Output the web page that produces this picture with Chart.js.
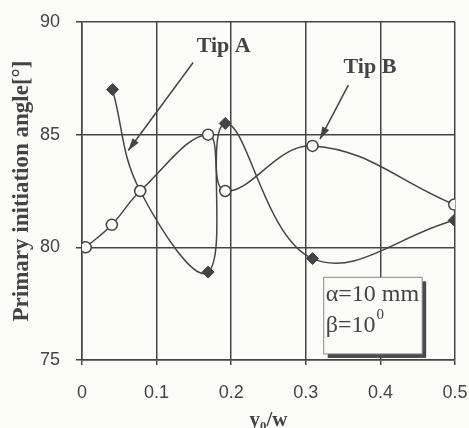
<!DOCTYPE html>
<html>
<head>
<meta charset="utf-8">
<script src="https://cdn.jsdelivr.net/npm/chart.js@4"></script>
<style>
  html, body { margin: 0; padding: 0; background: #fcfcf6; }
  #wrap { width: 469px; height: 428px; }
</style>
</head>
<body>
<div id="wrap"><canvas id="myChart" width="469" height="428"></canvas></div>
<script>
// data
const tipBx = [0.005, 0.04, 0.078, 0.169, 0.192, 0.309, 0.499];
const tipBy = [80.0, 81.0, 82.5, 85.0, 82.5, 84.5, 81.9];
const tipAx = [0.041, 0.078, 0.169, 0.192, 0.309, 0.499];
const tipAy = [87.0, 82.5, 78.9, 85.5, 79.5, 81.2];
const xTicks = [0, 0.1, 0.2, 0.3, 0.4, 0.5];
const yTicks = [75, 80, 85, 90];

const ink = "#444";
const serif = "'Liberation Serif', 'Times New Roman', serif";
const sans = "'Liberation Sans', Arial, sans-serif";

function pts(xs, ys) {
  return xs.map((x, i) => ({ x: x, y: ys[i] }));
}

// annotation labels and arrows, in data units
const notes = [
  { text: "Tip A", x: 0.19, y: 88.9, from: [0.149, 88.2], to: [0.062, 84.3] },
  { text: "Tip B", x: 0.386, y: 88.0, from: [0.357, 87.2], to: [0.319, 84.8] },
];

const notePlugin = {
  id: "notes",
  afterDatasetsDraw(chart) {
    const c = chart.ctx;
    const xs = chart.scales.x, ys = chart.scales.y;
    c.save();
    c.fillStyle = ink;
    c.strokeStyle = ink;
    c.font = "bold 22px " + serif;
    c.textAlign = "center";
    c.textBaseline = "middle";
    notes.forEach((n) => {
      c.fillText(n.text, xs.getPixelForValue(n.x), ys.getPixelForValue(n.y));
      const x1 = xs.getPixelForValue(n.from[0]), y1 = ys.getPixelForValue(n.from[1]);
      const x2 = xs.getPixelForValue(n.to[0]), y2 = ys.getPixelForValue(n.to[1]);
      c.lineWidth = 1.5;
      c.beginPath();
      c.moveTo(x1, y1);
      c.lineTo(x2, y2);
      c.stroke();
      const a = Math.atan2(y2 - y1, x2 - x1);
      c.beginPath();
      c.moveTo(x2, y2);
      c.lineTo(x2 - 13 * Math.cos(a - 0.3), y2 - 13 * Math.sin(a - 0.3));
      c.lineTo(x2 - 13 * Math.cos(a + 0.3), y2 - 13 * Math.sin(a + 0.3));
      c.closePath();
      c.fill();
    });

    // parameter box with shadow
    const bx = xs.getPixelForValue(0.324), by = ys.getPixelForValue(78.67);
    const bw = xs.getPixelForValue(0.456) - bx, bh = ys.getPixelForValue(75.27) - by;
    c.fillStyle = "#4a4a4a";
    c.fillRect(bx + 4, by + 4, bw, bh);
    c.fillStyle = "#fcfcf6";
    c.fillRect(bx, by, bw, bh);
    c.lineWidth = 1;
    c.strokeStyle = "#888";
    c.strokeRect(bx, by, bw, bh);
    c.fillStyle = ink;
    c.textAlign = "left";
    c.textBaseline = "alphabetic";
    c.font = "24px " + serif;
    c.fillText("\u03b1=10 mm", bx + 2, by + 24);
    c.fillText("\u03b2=10", bx + 2, by + 55);
    const w = c.measureText("\u03b2=10").width;
    c.font = "15px " + serif;
    c.fillText("0", bx + 2 + w + 1, by + 42);
    c.restore();
  },
};

const bgPlugin = {
  id: "bg",
  beforeDraw(chart) {
    const c = chart.ctx;
    c.save();
    c.fillStyle = "#fcfcf6";
    c.fillRect(0, 0, chart.width, chart.height);
    c.restore();
  },
};

const ctx = document.getElementById("myChart").getContext("2d");
const myChart = new Chart(ctx, {
  type: "scatter",
  data: {
    datasets: [
      {
        label: "Tip B",
        data: pts(tipBx, tipBy),
        showLine: true,
        tension: 0.4,
        borderColor: ink,
        borderWidth: 1.5,
        pointStyle: "circle",
        pointRadius: 5.5,
        pointBackgroundColor: "#fcfcf6",
        pointBorderColor: ink,
        pointBorderWidth: 1.5,
      },
      {
        label: "Tip A",
        data: pts(tipAx, tipAy),
        showLine: true,
        tension: 0.4,
        borderColor: ink,
        borderWidth: 1.5,
        pointStyle: "rectRot",
        pointRadius: 6,
        pointBackgroundColor: ink,
        pointBorderColor: ink,
        pointBorderWidth: 1,
      },
    ],
  },
  options: {
    responsive: false,
    animation: false,
    layout: { padding: { top: 22, right: 0, left: 0, bottom: 0 } },
    plugins: { legend: { display: false }, tooltip: { enabled: false } },
    scales: {
      x: {
        type: "linear",
        min: 0,
        max: 0.5,
        afterBuildTicks: (s) => { s.ticks = xTicks.map((v) => ({ value: v })); },
        afterFit: (s) => { s.height = 68; s.paddingRight = 14; s.paddingLeft = 0; },
        grid: { color: ink, lineWidth: 1.5, tickLength: 5, drawTicks: true },
        border: { color: ink, width: 1.5 },
        ticks: { color: "#444", font: { family: sans, size: 18 }, padding: 17, maxRotation: 0 },
        title: { display: true, text: "y\u2080/w", color: ink, font: { family: serif, size: 21, weight: "bold" }, padding: { top: 0, bottom: -5 } },
      },
      y: {
        min: 75,
        max: 90,
        afterBuildTicks: (s) => { s.ticks = yTicks.map((v) => ({ value: v })); },
        afterFit: (s) => { s.width = 82; s.paddingTop = 0; s.paddingBottom = 0; },
        grid: { color: ink, lineWidth: 1.5, tickLength: 6 },
        border: { color: ink, width: 1.5 },
        ticks: { color: "#444", font: { family: sans, size: 18 }, padding: 16 },
        title: { display: true, text: "Primary initiation angle[\u00b0]", color: ink, font: { family: serif, size: 23, weight: "bold" }, padding: { top: 8, bottom: 0 } },
      },
    },
  },
  plugins: [bgPlugin, notePlugin],
});
</script>
</body>
</html>
